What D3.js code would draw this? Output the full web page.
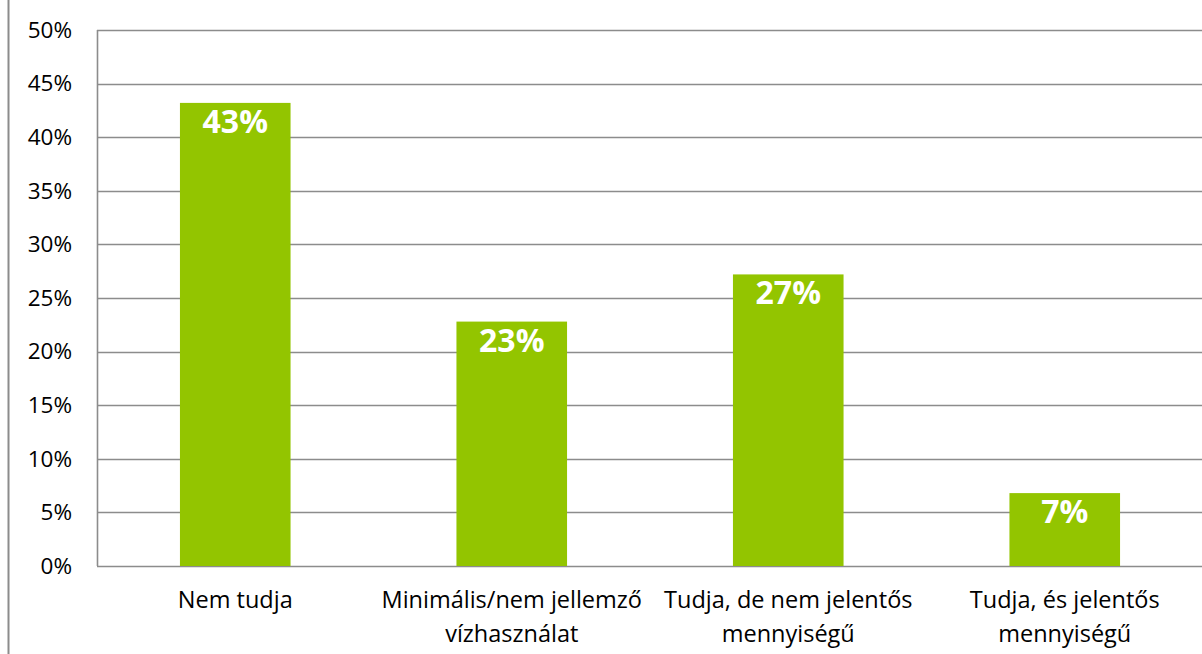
<!DOCTYPE html>
<html><head><meta charset="utf-8">
<script src="https://cdn.jsdelivr.net/npm/d3@7"></script>
<style>html,body{margin:0;padding:0;background:#fff;overflow:hidden}svg{display:block}</style>
</head><body>
<script>
const categories = [["Nem tudja"], ["Minimális/nem jellemző", "vízhasználat"], ["Tudja, de nem jelentős", "mennyiségű"], ["Tudja, és jelentős", "mennyiségű"]];
const values = [0.432, 0.228, 0.272, 0.068];
const yTicks = [0, 0.05, 0.10, 0.15, 0.20, 0.25, 0.30, 0.35, 0.40, 0.45, 0.50];

const W = 1202, H = 654;
const m = {left: 97, right: -1, top: 30, bottom: 88};
const svg = d3.select("body").append("svg").attr("width", W).attr("height", H);
const font = "'Open Sans', sans-serif";

svg.append("line").attr("x1", 8.5).attr("x2", 8.5).attr("y1", 0).attr("y2", H)
  .attr("stroke", "#8c8c8c").attr("stroke-width", 2);

const x = d3.scaleBand().domain(d3.range(categories.length)).range([m.left, W - m.right]).paddingInner(0.6).paddingOuter(0.3);
const y = d3.scaleLinear().domain([0, 0.5]).range([H - m.bottom, m.top]);

const g = svg.append("g");
g.selectAll("line.grid").data(yTicks).join("line").attr("class", "grid")
  .attr("x1", m.left).attr("x2", W).attr("y1", d => Math.round(y(d)) + 0.5).attr("y2", d => Math.round(y(d)) + 0.5)
  .attr("stroke", "#8c8c8c").attr("stroke-width", 1.6);
g.append("line").attr("x1", m.left + 0.5).attr("x2", m.left + 0.5).attr("y1", y(0.5)).attr("y2", y(0))
  .attr("stroke", "#8c8c8c").attr("stroke-width", 1.6);

const yAxis = d3.axisLeft(y).tickValues(yTicks).tickFormat(d3.format(".0%")).tickSize(0).tickPadding(25);
const ya = svg.append("g").attr("transform", `translate(${m.left},0)`).call(yAxis);
ya.select(".domain").remove();
ya.selectAll("text").attr("font-family", font).attr("font-size", 22.5).attr("fill", "#000");

g.selectAll("rect.bar").data(values).join("rect").attr("class", "bar")
  .attr("x", (d, i) => x(i)).attr("width", x.bandwidth())
  .attr("y", d => y(d)).attr("height", d => y(0) - y(d))
  .attr("fill", "#93c500");

g.selectAll("text.val").data(values).join("text").attr("class", "val")
  .attr("x", (d, i) => x(i) + x.bandwidth() / 2).attr("y", d => y(d) + 30)
  .attr("text-anchor", "middle").attr("font-family", font).attr("font-weight", "bold")
  .attr("font-size", 32).attr("fill", "#fff").text(d => d3.format(".0%")(d));

const xa = svg.append("g");
categories.forEach((lines, i) => {
  const t = xa.append("text").attr("text-anchor", "middle").attr("font-family", font)
    .attr("font-size", 23.5).attr("fill", "#000");
  lines.forEach((l, j) => t.append("tspan").attr("x", x(i) + x.bandwidth() / 2).attr("y", 608 + j * 34).text(l));
});
</script>
</body></html>
